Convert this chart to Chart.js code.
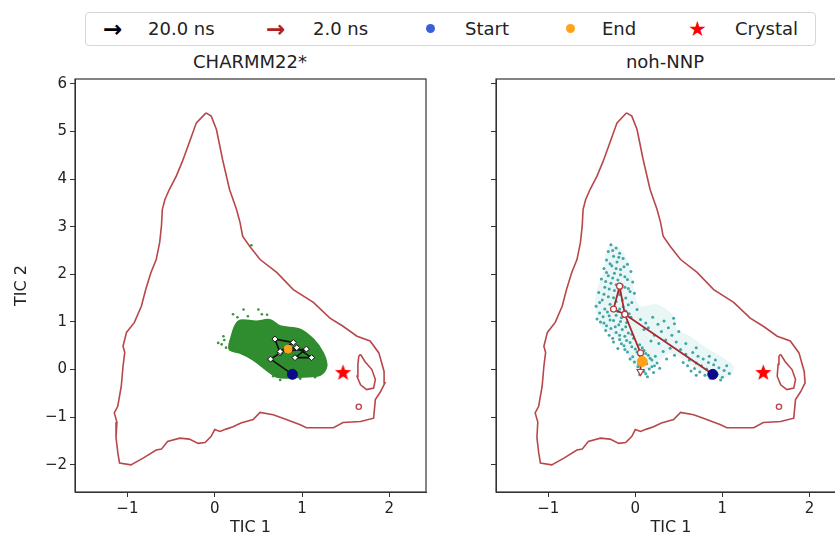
<!DOCTYPE html>
<html>
<head>
<meta charset="utf-8">
<script src="https://cdn.jsdelivr.net/npm/chart.js@4.4.0/dist/chart.umd.min.js"></script>
<style>
  html, body { margin: 0; padding: 0; background: #fff; }
  body { position: relative; width: 835px; height: 541px; overflow: hidden; font-family: "DejaVu Sans", sans-serif; }
  canvas { position: absolute; }
  #left { left: 0; top: 48px; }
  #right { left: 480px; top: 48px; }
  #legend { position: absolute; left: 85px; top: 12px; width: 731px; height: 34px; box-sizing: border-box;
            border: 1px solid #d6d6d6; border-radius: 4px; background: #fff; }
  .lg { position: absolute; top: 12px; height: 34px; line-height: 34px; font-size: 18px; color: #222; white-space: nowrap; }
  .arrow { font-size: 23px; font-weight: bold; }
  .dot { position: absolute; width: 9px; height: 9px; border-radius: 50%; top: 24px; }
  .ttl { position: absolute; top: 50px; height: 24px; line-height: 24px; font-size: 18px; color: #222; text-align: center; white-space: nowrap; }
</style>
</head>
<body>
<div id="legend"></div>
<span class="lg arrow" style="left:103px;color:#000">&#8594;</span>
<span class="lg" style="left:148px">20.0 ns</span>
<span class="lg arrow" style="left:266px;color:#b22222">&#8594;</span>
<span class="lg" style="left:313px">2.0 ns</span>
<div class="dot" style="left:426px;background:#3b5fd6"></div>
<span class="lg" style="left:465px">Start</span>
<div class="dot" style="left:566px;background:#ffa21a"></div>
<span class="lg" style="left:602px">End</span>
<span class="lg" style="left:688px;color:#ff0000;font-size:21px">&#9733;</span>
<span class="lg" style="left:735px">Crystal</span>

<div class="ttl" style="left:150px;width:200px">CHARMM22*</div>
<div class="ttl" style="left:565px;width:200px">noh-NNP</div>

<canvas id="left" width="440" height="493" style="width:440px;height:493px"></canvas>
<canvas id="right" width="380" height="493" style="width:380px;height:493px"></canvas>

<script>
// axis setup
const xTicks = [-1, 0, 1, 2];
const yTicks = [-2, -1, 0, 1, 2, 3, 4, 5, 6];
const xRange = [-1.6, 2.42];
const yRange = [-2.57, 6.1];

// free-energy contour (same in both panels)
const contour = [
  [-0.10, 5.39], [-0.21, 5.18], [-0.29, 4.77], [-0.37, 4.37], [-0.44, 4.06], [-0.52, 3.78],
  [-0.57, 3.57], [-0.60, 3.36], [-0.61, 3.01], [-0.63, 2.67], [-0.67, 2.31], [-0.73, 2.04],
  [-0.79, 1.68], [-0.84, 1.33], [-0.92, 0.99], [-1.01, 0.78], [-1.05, 0.49], [-1.03, 0.36],
  [-1.05, 0.07], [-1.07, -0.35], [-1.11, -0.77], [-1.15, -0.91], [-1.12, -1.10], [-1.13, -1.43],
  [-1.11, -1.74], [-1.09, -1.96], [-0.96, -2.0], [-0.82, -1.86], [-0.67, -1.69], [-0.61, -1.67],
  [-0.54, -1.51], [-0.40, -1.44], [-0.29, -1.46], [-0.19, -1.55], [-0.11, -1.53], [-0.04, -1.40],
  [0.0, -1.26], [0.06, -1.30], [0.13, -1.25], [0.21, -1.20], [0.30, -1.12], [0.44, -1.05],
  [0.52, -0.90], [0.67, -0.95], [0.82, -1.05], [0.98, -1.16], [1.05, -1.22], [1.36, -1.22],
  [1.47, -1.11], [1.67, -1.09], [1.82, -1.02], [1.84, -0.63], [1.90, -0.46], [1.95, -0.28],
  [1.94, -0.04], [1.88, 0.35], [1.78, 0.60], [1.63, 0.70], [1.47, 0.91], [1.32, 1.08],
  [1.13, 1.41], [0.90, 1.68], [0.71, 2.04], [0.52, 2.31], [0.40, 2.59], [0.32, 2.80],
  [0.29, 3.09], [0.25, 3.36], [0.17, 3.78], [0.09, 4.41], [0.02, 5.04], [-0.04, 5.32], [-0.10, 5.39]
];
const loop = [
  [1.67, 0.32], [1.72, 0.17], [1.80, 0.0], [1.84, -0.21], [1.82, -0.39], [1.74, -0.42],
  [1.67, -0.32], [1.63, -0.14], [1.64, 0.11], [1.65, 0.28], [1.67, 0.32]
];
const islet = [[1.65, -0.78]];

// CHARMM22* sampled region
const greenBlob = [
  [0.17, 0.56], [0.27, 1.01], [0.48, 1.01], [0.63, 1.04], [0.75, 0.91], [0.98, 0.84],
  [1.13, 0.63], [1.24, 0.35], [1.28, 0.07], [1.21, -0.11], [1.01, -0.15], [0.86, -0.17],
  [0.71, -0.15], [0.59, 0.0], [0.44, 0.21], [0.29, 0.35], [0.17, 0.42], [0.17, 0.56]
];
const greenDots = [
  [0.04, 0.56], [0.08, 0.53], [0.13, 0.46], [0.21, 1.16], [0.33, 1.26], [0.50, 1.26],
  [0.54, 1.16], [0.23, 0.77], [0.67, -0.14], [0.75, -0.22], [0.98, -0.19], [0.42, 2.61],
  [0.11, 0.62], [0.38, 1.12], [1.15, -0.16], [0.10, 0.70], [0.26, 1.10], [0.60, 1.15]
];
const blackPath = [
  [0.89, -0.10], [0.64, 0.22], [0.75, 0.35], [0.69, 0.64], [0.90, 0.57], [0.75, 0.38],
  [1.05, 0.43], [0.92, 0.25], [1.11, 0.25], [0.94, 0.46], [0.84, 0.43]
];

// noh-NNP sampled points
const tealDots = [
  [-0.28, 2.62], [-0.22, 2.55], [-0.31, 2.48], [-0.18, 2.44], [-0.25, 2.38], [-0.14, 2.33],
  [-0.33, 2.30], [-0.21, 2.26], [-0.09, 2.21], [-0.27, 2.18], [-0.36, 2.12], [-0.17, 2.10],
  [-0.05, 2.06], [-0.24, 2.02], [-0.31, 1.97], [-0.12, 1.95], [-0.39, 1.90], [-0.20, 1.88],
  [-0.03, 1.84], [-0.28, 1.81], [-0.15, 1.77], [-0.35, 1.73], [-0.08, 1.70], [-0.24, 1.66],
  [-0.42, 1.62], [-0.01, 1.60], [-0.18, 1.57], [-0.31, 1.53], [-0.11, 1.50], [-0.38, 1.46],
  [-0.22, 1.43], [-0.04, 1.41], [-0.29, 1.37], [-0.45, 1.33], [-0.14, 1.32], [-0.35, 1.27],
  [0.02, 1.26], [-0.20, 1.22], [-0.41, 1.19], [-0.07, 1.17], [-0.30, 1.13], [-0.16, 1.09],
  [-0.44, 1.06], [-0.25, 1.03], [-0.36, 0.98], [-0.10, 0.99], [-0.33, 0.92], [-0.19, 0.94],
  [-0.28, 0.86], [-0.15, 0.84], [-0.22, 0.78], [-0.08, 0.77], [-0.30, 0.72], [-0.12, 0.70],
  [-0.02, 0.66], [-0.18, 0.63], [-0.25, 0.58], [-0.06, 0.57], [0.05, 0.52], [-0.13, 0.50],
  [-0.20, 0.44], [0.00, 0.43], [0.10, 0.40], [-0.09, 0.37], [0.04, 0.33], [0.15, 0.30],
  [-0.03, 0.27], [0.08, 0.23], [0.19, 0.20], [-0.01, 0.16], [0.13, 0.12], [0.22, 0.08],
  [0.03, 0.06], [0.16, 0.01], [0.10, -0.04], [0.21, -0.06], [0.05, -0.11], [0.14, -0.15],
  [0.25, 0.14], [0.28, 0.03], [0.06, 1.05], [0.12, 0.98], [0.20, 1.10], [0.26, 0.95],
  [0.33, 1.02], [0.15, 0.88], [0.38, 0.88], [0.45, 0.96], [0.30, 0.80], [0.22, 0.72],
  [0.42, 0.72], [0.50, 0.80], [0.35, 0.62], [0.47, 0.58], [0.27, 0.55], [0.40, 0.45],
  [0.32, 0.38], [0.18, 0.60], [0.10, 0.84], [0.44, 1.08], [0.58, 0.32], [0.66, 0.36],
  [0.72, 0.28], [0.62, 0.20], [0.78, 0.22], [0.70, 0.14], [0.84, 0.15], [0.60, 0.08],
  [0.76, 0.08], [0.90, 0.10], [0.68, 0.02], [0.82, 0.01], [0.96, 0.04], [0.74, -0.05],
  [0.88, -0.04], [1.02, -0.02], [0.80, -0.12], [0.94, -0.10], [1.08, -0.08], [0.86, -0.18],
  [1.00, -0.16], [0.70, -0.12], [0.92, 0.20], [1.05, 0.08], [0.64, -0.03], [0.98, -0.22],
  [0.55, 0.15], [0.85, 0.28], [-0.26, 2.50], [-0.19, 2.36], [-0.29, 2.22], [-0.13, 2.16],
  [-0.22, 2.12], [-0.33, 2.04], [-0.17, 1.99], [-0.26, 1.92], [-0.09, 1.89], [-0.34, 1.85],
  [-0.22, 1.78], [-0.12, 1.73], [-0.30, 1.69], [-0.19, 1.62], [-0.06, 1.64], [-0.36, 1.58],
  [-0.25, 1.51], [-0.15, 1.46], [-0.41, 1.41], [-0.08, 1.36], [-0.26, 1.30], [-0.18, 1.27],
  [-0.32, 1.21], [-0.11, 1.23], [-0.37, 1.11], [-0.22, 1.14], [-0.05, 1.10], [-0.29, 1.04],
  [-0.17, 1.01], [-0.40, 1.00], [-0.23, 0.90], [-0.11, 0.90], [-0.34, 0.82], [-0.18, 0.72],
  [-0.04, 0.74], [-0.26, 0.66], [-0.10, 0.61], [-0.16, 0.54], [-0.04, 0.48], [0.08, 0.46],
  [-0.12, 0.42], [0.02, 0.37], [0.12, 0.34], [0.06, 0.28], [-0.06, 0.22], [0.17, 0.24],
  [0.10, 0.17], [0.04, 0.11], [0.19, 0.06], [0.12, -0.09], [0.23, 0.28], [0.36, 0.22],
  [0.52, 0.42], [0.58, 0.55], [0.70, 0.46], [0.45, 0.30]
];
const tealRegion = [
  [-0.29, 2.66], [-0.15, 2.49], [-0.08, 2.24], [-0.04, 1.93], [0.0, 1.54], [0.06, 1.33],
  [0.25, 1.37], [0.44, 1.12], [0.48, 0.84], [0.63, 0.70], [0.79, 0.49], [0.98, 0.28],
  [1.13, 0.07], [1.09, -0.14], [0.86, -0.17], [0.71, 0.0], [0.56, 0.21], [0.40, 0.35],
  [0.29, 0.21], [0.17, 0.07], [0.08, -0.07], [-0.04, 0.14], [-0.13, 0.49], [-0.29, 0.77],
  [-0.40, 0.91], [-0.46, 1.33], [-0.44, 1.68], [-0.36, 2.10], [-0.34, 2.45], [-0.29, 2.66]
];
const redPath = [
  [0.89, -0.10], [-0.12, 1.16], [-0.18, 1.75], [-0.25, 1.27], [-0.12, 1.16], [0.06, 0.35], [0.06, -0.04]
];

const start = [[0.89, -0.10]];
const endCharmm = [[0.84, 0.43]];
const endNnp = [[0.08, 0.17]];
const crystal = [[1.47, -0.06]];

const contourColor = '#b8474a';

Chart.defaults.font.family = '"DejaVu Sans", sans-serif';
Chart.defaults.color = '#222';

const pts = arr => arr.map(([x, y]) => ({ x, y }));
const fmt = v => String(v).replace('-', '\u2212');

function makeStar(size) {
  const c = document.createElement('canvas');
  c.width = size; c.height = size;
  const g = c.getContext('2d');
  const R = size / 2, r = R * 0.42;
  g.beginPath();
  for (let i = 0; i < 10; i++) {
    const rad = i % 2 === 0 ? R : r;
    const a = -Math.PI / 2 + i * Math.PI / 5;
    g.lineTo(R + rad * Math.cos(a), R + 0.5 + rad * Math.sin(a));
  }
  g.closePath();
  g.fillStyle = '#ff0000';
  g.fill();
  return c;
}
const starImg = makeStar(17);

const frame = {
  id: 'frame',
  afterDraw(chart) {
    const { ctx, chartArea: a } = chart;
    ctx.save();
    ctx.strokeStyle = '#333';
    ctx.lineWidth = 1.2;
    ctx.strokeRect(a.left, a.top, a.right - a.left, a.bottom - a.top);
    ctx.restore();
  }
};

function commonSets() {
  return [
    { data: pts(contour), showLine: true, borderColor: contourColor, borderWidth: 1.6, pointRadius: 0, order: 20 },
    { data: pts(loop), showLine: true, borderColor: contourColor, borderWidth: 1.6, pointRadius: 0, order: 20 },
    { data: pts(islet), pointRadius: 2.6, pointBackgroundColor: '#fff', pointBorderColor: contourColor, pointBorderWidth: 1.4, order: 20 },
    { data: pts(start), pointRadius: 5, pointBackgroundColor: '#0a0a8c', pointBorderColor: '#0a0a8c', order: 2 },
    { data: pts(crystal), pointStyle: starImg, order: 1 }
  ];
}

function scales(leftPanel) {
  return {
    x: {
      type: 'linear', min: xRange[0], max: xRange[1],
      afterBuildTicks: a => { a.ticks = xTicks.map(v => ({ value: v })); },
      afterFit: s => { s.height = 49; },
      grid: { drawOnChartArea: false, drawTicks: true, tickLength: 5, color: '#333' },
      border: { display: true, color: '#333' },
      ticks: { font: { size: 15 }, color: '#222', padding: 3, maxRotation: 0, callback: v => fmt(v) },
      title: { display: true, text: 'TIC 1', font: { size: 16 }, color: '#222', padding: { top: 2, bottom: 4 } }
    },
    y: {
      type: 'linear', min: yRange[0], max: yRange[1],
      afterBuildTicks: a => { a.ticks = yTicks.map(v => ({ value: v })); },
      afterFit: s => { s.width = leftPanel ? 63 : 16; },
      grid: { drawOnChartArea: false, drawTicks: true, tickLength: 5, color: '#333' },
      border: { display: true, color: '#333' },
      ticks: { display: leftPanel, font: { size: 15 }, color: '#222', padding: 3, callback: v => fmt(v) },
      title: { display: leftPanel, text: 'TIC 2', font: { size: 16 }, color: '#222', padding: { top: 0, bottom: 0 } }
    }
  };
}

function opts(leftPanel) {
  return {
    responsive: false,
    animation: false,
    events: [],
    layout: { padding: { left: leftPanel ? 12 : 0, right: 14, top: 31, bottom: 0 } },
    plugins: {
      legend: { display: false },
      tooltip: { enabled: false }
    },
    scales: scales(leftPanel)
  };
}

new Chart(document.getElementById('left'), {
  type: 'scatter',
  data: {
    datasets: [
      ...commonSets(),
      { data: pts(greenBlob), showLine: true, fill: 'shape', tension: 0.35, backgroundColor: '#2f8c2f',
        borderColor: '#2f8c2f', borderWidth: 2, pointRadius: 0, order: 10 },
      { data: pts(greenDots), pointRadius: 1.3, pointBackgroundColor: '#3a913a', pointBorderWidth: 0, order: 10 },
      { data: pts(blackPath), showLine: true, borderColor: '#111', borderWidth: 1.6, pointStyle: 'rectRot',
        pointRadius: 3, pointBackgroundColor: '#fff', pointBorderColor: '#111', pointBorderWidth: 1, order: 5 },
      { data: pts(endCharmm), pointRadius: 4, pointBackgroundColor: '#ffa21a', pointBorderColor: '#ffa21a', order: 4 }
    ]
  },
  options: opts(true),
  plugins: [frame]
});

new Chart(document.getElementById('right'), {
  type: 'scatter',
  data: {
    datasets: [
      ...commonSets(),
      { data: pts(tealRegion), showLine: true, fill: 'shape', tension: 0.3, backgroundColor: 'rgba(40,165,165,0.10)',
        borderColor: 'rgba(40,165,165,0)', borderWidth: 0, pointRadius: 0, order: 11 },
      { data: pts(tealDots), pointRadius: 1.5, pointBackgroundColor: 'rgba(35,150,150,0.85)', pointBorderWidth: 0, order: 10 },
      { data: pts(redPath), showLine: true, borderColor: '#a8282c', borderWidth: 1.8,
        pointStyle: ['circle', 'circle', 'circle', 'circle', 'circle', 'circle', 'triangle'],
        rotation: [0, 0, 0, 0, 0, 0, 180],
        pointRadius: [0, 3, 3, 3, 3, 3, 4], pointBackgroundColor: '#fff', pointBorderColor: '#b83a3a', pointBorderWidth: 1.2, order: 5 },
      { data: pts(endNnp), pointRadius: 5, pointBackgroundColor: '#ffa21a', pointBorderColor: '#ffa21a', order: 4 }
    ]
  },
  options: opts(false),
  plugins: [frame]
});
</script>
</body>
</html>
